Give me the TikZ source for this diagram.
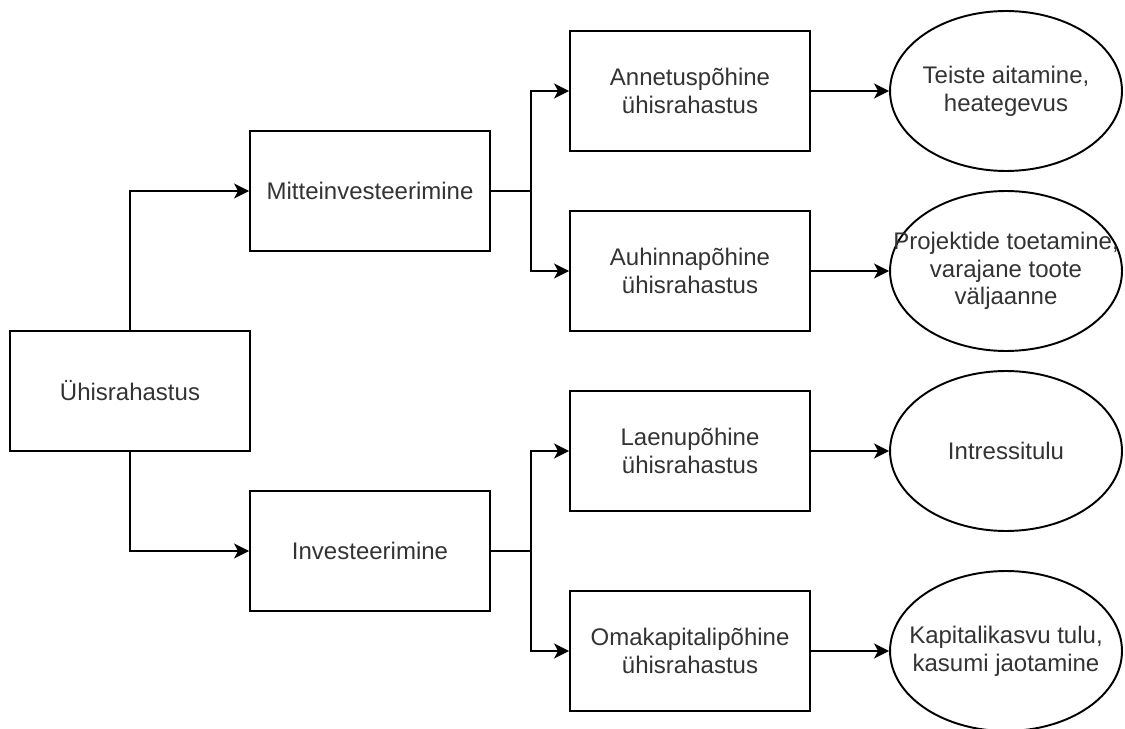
\documentclass[tikz,border=0pt]{standalone}
\usepackage{fontspec}
\setmainfont{Liberation Sans}
\usepackage{tikz}
\usetikzlibrary{arrows.meta, shapes.geometric, calc}
\definecolor{tekst}{HTML}{333333}

\begin{document}
\begin{tikzpicture}[x=0.02cm, y=-0.02cm, >={Stealth[length=0.3cm, width=0.3cm, inset=0.08cm]},
  line width=1.1pt, font=\fontsize{13.66}{15.76}\selectfont,
  kast/.style={draw, rectangle, minimum width=4.8cm, minimum height=2.4cm, align=center, text=tekst},
  ovaal/.style={draw, ellipse, minimum width=4.64cm, minimum height=3.2cm, inner xsep=-3cm, align=center, text=tekst}]
  \useasboundingbox (0,0) rectangle (1125,729);

  % Rahastuse liigid
  \node[kast] (uhis) at (130,391) {Ühisrahastus};
  \node[kast] (mitte) at (370,191) {Mitteinvesteerimine};
  \node[kast] (invest) at (370,551) {Investeerimine};

  % Mudelid
  \node[kast] (annetus) at (690,91) {Annetuspõhine\\ühisrahastus};
  \node[kast] (auhind) at (690,271) {Auhinnapõhine\\ühisrahastus};
  \node[kast] (laen) at (690,451) {Laenupõhine\\ühisrahastus};
  \node[kast] (omakap) at (690,651) {Omakapitalipõhine\\ühisrahastus};

  % Motivatsioon
  \node[ovaal] (heategevus) at (1006,91) {Teiste aitamine,\\heategevus};
  \node[ovaal] (projektid) at (1006,271) {Projektide toetamine,\\varajane toote\\väljaanne};
  \node[ovaal] (intress) at (1006,451) {Intressitulu};
  \node[ovaal] (kapital) at (1006,651) {Kapitalikasvu tulu,\\kasumi jaotamine};

  % Ühendused
  \draw[->] (uhis.north) |- (mitte.west);
  \draw[->] (uhis.south) |- (invest.west);
  \draw[->] (mitte.east) -- ++(40,0) |- (annetus.west);
  \draw[->] (mitte.east) -- ++(40,0) |- (auhind.west);
  \draw[->] (invest.east) -- ++(40,0) |- (laen.west);
  \draw[->] (invest.east) -- ++(40,0) |- (omakap.west);
  \foreach \a/\b in {annetus/heategevus, auhind/projektid, laen/intress, omakap/kapital}
    \draw[->] (\a) -- (\b);
\end{tikzpicture}
\end{document}
